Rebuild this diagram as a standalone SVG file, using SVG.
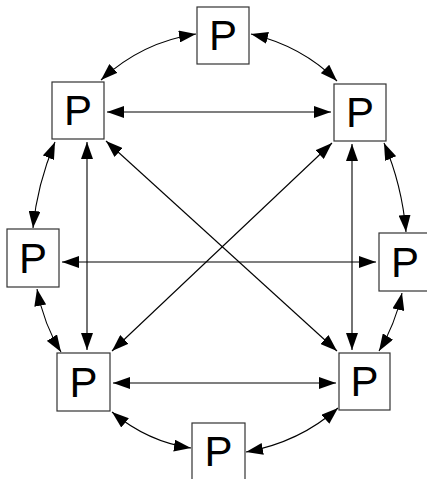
<svg xmlns="http://www.w3.org/2000/svg" width="427" height="479" viewBox="0 0 427 479">
<style>
.box{fill:#fff;stroke:#333;stroke-width:1.2}
.lbl{font-family:"Liberation Sans",Arial,sans-serif;font-size:42px;fill:#000;text-anchor:middle}
.e{fill:none;stroke:#000;stroke-width:1.1;marker-start:url(#ah);marker-end:url(#ah)}
</style>
<defs>
<marker id="ah" markerUnits="userSpaceOnUse" markerWidth="17" markerHeight="12" refX="17" refY="6" orient="auto-start-reverse" viewBox="0 0 17 12">
<path d="M0,0 L17,6 L0,12 z" fill="#000"/>
</marker>
</defs>
<rect width="427" height="479" fill="#fff"/>
<g id="edges">
<path class="e" d="M107,112 L331,112"/>
<path class="e" d="M62,262 L376,262"/>
<path class="e" d="M113,383 L336,383"/>
<path class="e" d="M87,142 L87,350"/>
<path class="e" d="M352,144 L352,350"/>
<path class="e" d="M106,141 L337,351"/>
<path class="e" d="M332,143 L112,351"/>
<path class="e" d="M196,34 Q142,42 101,80"/>
<path class="e" d="M251,34 Q302,46 337,81"/>
<path class="e" d="M55,142 Q37,185 33,228"/>
<path class="e" d="M384,143 Q402,185 406,232"/>
<path class="e" d="M37,289 Q44,325 61,352"/>
<path class="e" d="M402,293 Q395,325 379,351"/>
<path class="e" d="M112,412 Q148,442 191,448"/>
<path class="e" d="M338,408 Q300,442 246,452"/>
</g>
<g id="n_top"><rect class="box" x="197" y="7" width="52" height="57"/><text class="lbl" x="223" y="50">P</text></g>
<g id="n_ul"><rect class="box" x="52" y="82" width="52" height="57"/><text class="lbl" x="78" y="125">P</text></g>
<g id="n_ur"><rect class="box" x="334" y="84" width="52" height="57"/><text class="lbl" x="360" y="127">P</text></g>
<g id="n_ml"><rect class="box" x="7" y="229" width="52" height="58"/><text class="lbl" x="33" y="273">P</text></g>
<g id="n_mr"><rect class="box" x="379" y="233" width="52" height="58"/><text class="lbl" x="405" y="277">P</text></g>
<g id="n_ll"><rect class="box" x="57" y="353" width="53" height="58"/><text class="lbl" x="83.5" y="397">P</text></g>
<g id="n_lr"><rect class="box" x="339" y="353" width="51" height="57"/><text class="lbl" x="364.5" y="396">P</text></g>
<g id="n_bot"><rect class="box" x="192" y="423" width="53" height="57"/><text class="lbl" x="218.5" y="466">P</text></g>
</svg>
